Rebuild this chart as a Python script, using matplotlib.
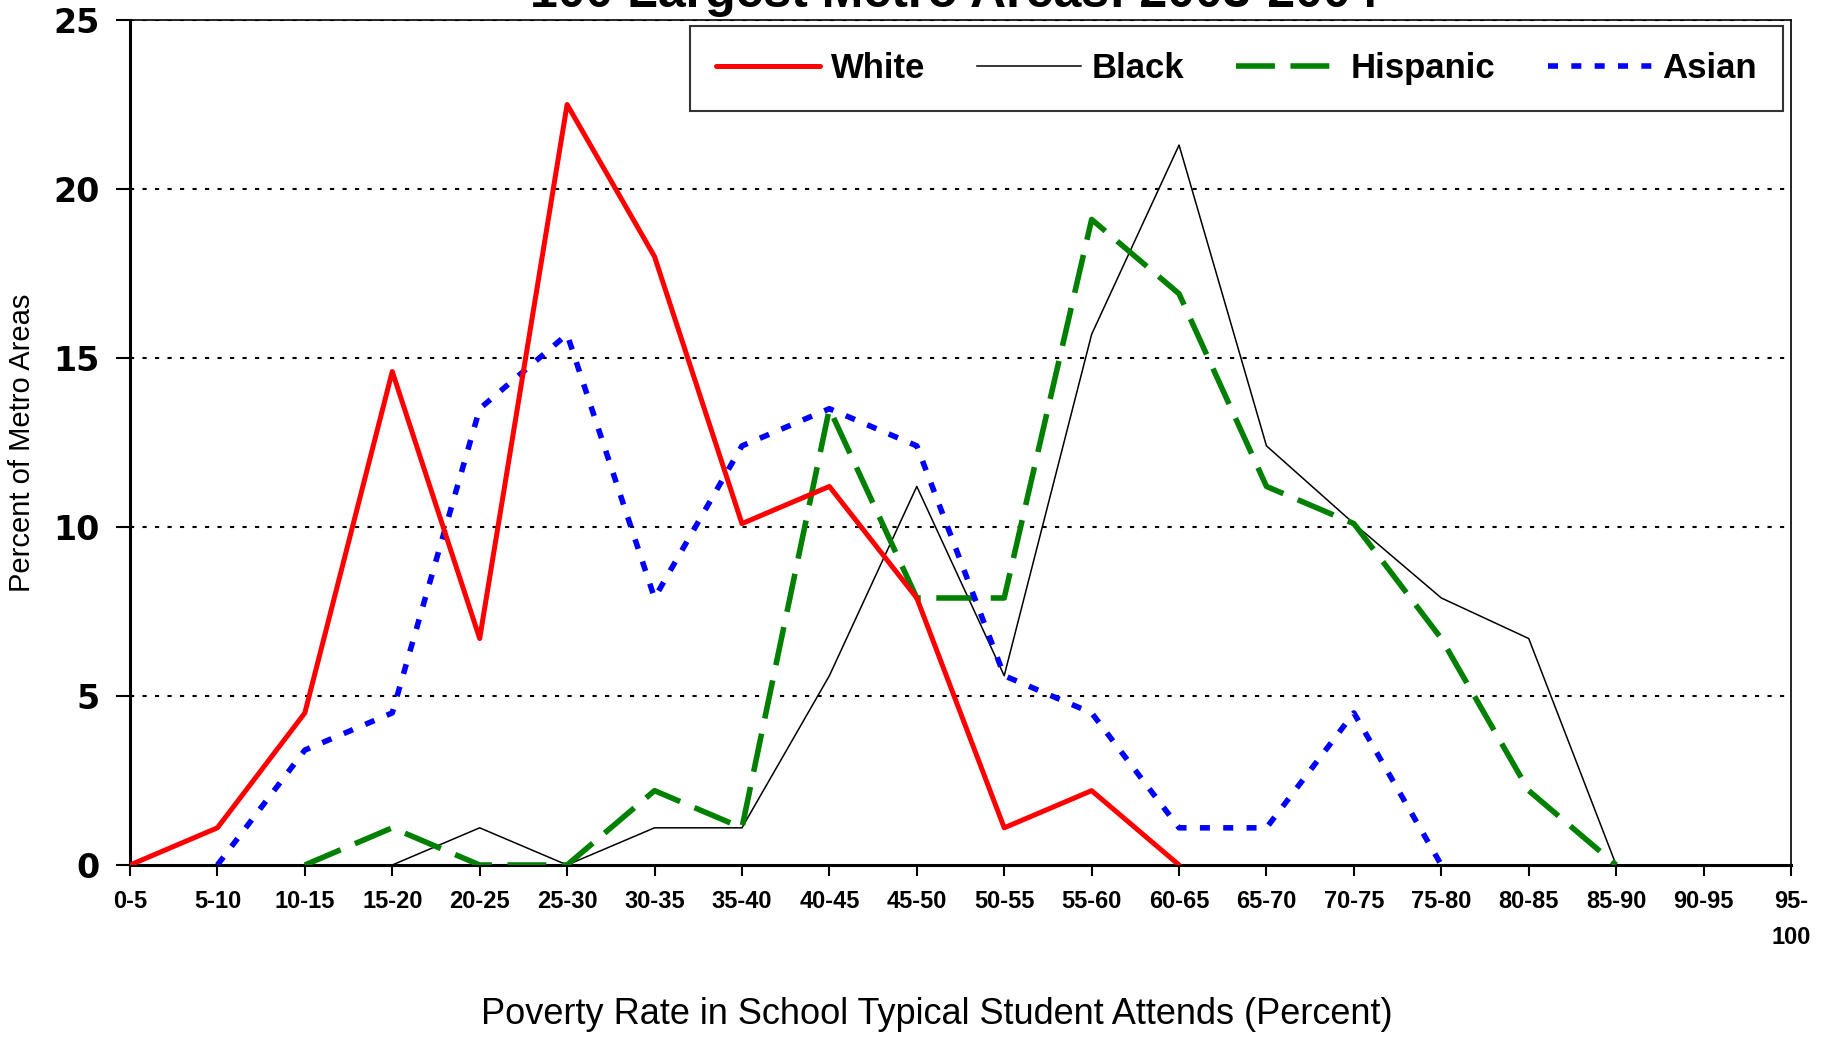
import numpy as np
import matplotlib
matplotlib.use("Agg")
import matplotlib.pyplot as plt
from matplotlib import font_manager as fm

nan = np.nan
categories = ["0-5", "5-10", "10-15", "15-20", "20-25", "25-30", "30-35", "35-40",
              "40-45", "45-50", "50-55", "55-60", "60-65", "65-70", "70-75", "75-80",
              "80-85", "85-90", "90-95", "95-\n100"]
white = [0, 1.1, 4.5, 14.6, 6.7, 22.5, 18.0, 10.1, 11.2, 7.9, 1.1, 2.2, 0,
         nan, nan, nan, nan, nan, nan, nan]
black = [nan, nan, nan, 0, 1.1, 0, 1.1, 1.1, 5.6, 11.2, 5.6, 15.7, 21.3, 12.4,
         10.1, 7.9, 6.7, 0, nan, nan]
hispanic = [nan, nan, 0, 1.1, 0, 0, 2.2, 1.1, 13.5, 7.9, 7.9, 19.1, 16.9, 11.2,
            10.1, 6.7, 2.2, 0, nan, nan]
asian = [nan, 0, 3.4, 4.5, 13.5, 15.7, 7.9, 12.4, 13.5, 12.4, 5.6, 4.5, 1.1, 1.1,
         4.5, 0, nan, nan, nan, nan]
yticks = [0, 5, 10, 15, 20, 25]

names = {f.name for f in fm.fontManager.ttflist}
narrow = "Liberation Sans Narrow" if "Liberation Sans Narrow" in names else "Liberation Sans"

fig = plt.figure(figsize=(18.26, 10.37), dpi=100)
ax = fig.add_axes([130/1826, 1-865/1037, (1791-130)/1826, (865-20)/1037])
x = np.arange(len(categories))

ax.plot(x, white, color="#FF0000", lw=3.6, solid_capstyle="round", label="White", zorder=4)
ax.plot(x, black, color="black", lw=1.1, label="Black", zorder=3)
ax.plot(x, hispanic, color="#008000", lw=4, dashes=(7, 2.8), label="Hispanic", zorder=3)
ax.plot(x, asian, color="#0000FF", lw=4, dashes=(1.8, 2.4), label="Asian", zorder=3)

ax.set_xlim(0, 19)
ax.set_ylim(0, 25)
ax.set_yticks(yticks)
ax.set_yticklabels([str(v) for v in yticks], fontsize=24, fontweight="bold",
                   family="DejaVu Sans")
ax.set_xticks(x)
ax.set_xticklabels(categories, fontsize=17, fontweight="bold", family=narrow,
                   va="top", linespacing=1.7)
ax.tick_params(axis="y", direction="out", length=10, width=1.5, pad=12)
ax.tick_params(axis="x", direction="out", length=8, width=1.5, pad=10)
for v in yticks[1:]:
    ax.axhline(v, color="black", lw=1.5, ls=(0, (2, 4)), zorder=1)
for s in ["left", "bottom"]:
    ax.spines[s].set_linewidth(2.2)
for s in ["top", "right"]:
    ax.spines[s].set_linewidth(1.2)

ax.set_ylabel("Percent of Metro Areas", fontsize=21, family=narrow, labelpad=12)
ax.set_xlabel("Poverty Rate in School Typical Student Attends (Percent)", fontsize=26,
              family="Liberation Sans", va="center")
ax.xaxis.set_label_coords(0.486, -(1015 - 865) / 845)

fig.text(954/1826, 1 - 7/1037, "100 Largest Metro Areas: 2003-2004", ha="center",
         va="baseline", fontsize=36, fontweight="bold", family="Liberation Sans")

leg = ax.legend(ncol=4, loc="upper right", bbox_to_anchor=(1783/1826, 1-26/1037),
                bbox_transform=fig.transFigure, frameon=True, fancybox=False,
                edgecolor="black", handlelength=3.0, handletextpad=0.3,
                columnspacing=1.5, borderpad=0.75, borderaxespad=0,
                prop={"family": narrow, "weight": "bold", "size": 25})
leg.get_frame().set_linewidth(1.5)

fig.savefig("out.png", dpi=100)
